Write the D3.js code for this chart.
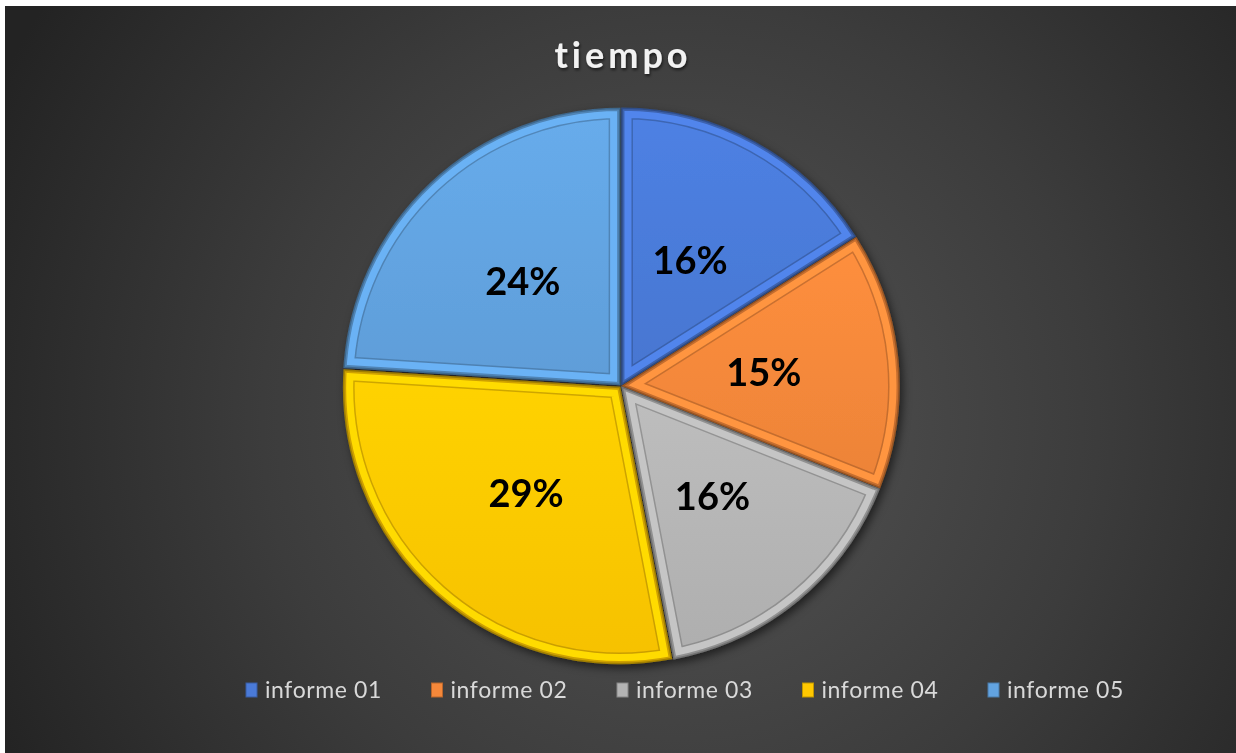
<!DOCTYPE html>
<html>
<head>
<meta charset="utf-8">
<script src="https://cdn.jsdelivr.net/npm/d3@7"></script>
<style>
  body { margin: 0; background: #fff; }
  svg { display: block; }
</style>
</head>
<body>
<div id="chart"></div>
<script>
////// DATA ////////
var title = "tiempo";
var categories = ["informe 01", "informe 02", "informe 03", "informe 04", "informe 05"];
var values = [16, 15, 16, 29, 24];
var colours = ["#4a7ad8", "#f5883a", "#b4b4b4", "#ffc800", "#62a3e0"];
////////////////////

var w = 1236, h = 753;
var cx = 621, cy = 386, r = 276;

var svg = d3.select("#chart").append("svg")
  .attr("width", w)
  .attr("height", h);

var defs = svg.append("defs");

// background gradient
var bg = defs.append("radialGradient")
  .attr("id", "bg")
  .attr("gradientUnits", "userSpaceOnUse")
  .attr("cx", 680).attr("cy", 420).attr("r", 760);
bg.append("stop").attr("offset", "0%").attr("stop-color", "#555555");
bg.append("stop").attr("offset", "55%").attr("stop-color", "#3c3c3c");
bg.append("stop").attr("offset", "100%").attr("stop-color", "#232323");

defs.append("filter").attr("id", "shadow")
  .attr("x", "-20%").attr("y", "-20%").attr("width", "140%").attr("height", "140%")
  .append("feDropShadow")
  .attr("dx", 3).attr("dy", 4).attr("stdDeviation", 4)
  .attr("flood-color", "#000").attr("flood-opacity", 0.55);

defs.append("filter").attr("id", "tshadow")
  .append("feDropShadow")
  .attr("dx", 1).attr("dy", 2).attr("stdDeviation", 1.5)
  .attr("flood-color", "#000").attr("flood-opacity", 0.6);

svg.append("rect")
  .attr("x", 5).attr("y", 6)
  .attr("width", w - 5).attr("height", h - 6)
  .attr("fill", "url(#bg)");

// title
svg.append("text")
  .attr("x", cx + 2).attr("y", 68)
  .attr("text-anchor", "middle")
  .attr("font-family", "Lato, 'Open Sans', sans-serif")
  .attr("font-weight", "bold")
  .attr("font-size", 36)
  .attr("letter-spacing", 4)
  .attr("fill", "#f2f2f2")
  .attr("filter", "url(#tshadow)")
  .text(title);

// pie
var pie = d3.pie().sort(null).value(function (d) { return d; });
var arcs = pie(values);

var arc = d3.arc().innerRadius(0).outerRadius(r);
var labelArc = d3.arc().innerRadius(r * 0.52).outerRadius(r * 0.52);
var explode = 2;

var g = svg.append("g")
  .attr("transform", "translate(" + cx + "," + cy + ")")
  .attr("filter", "url(#shadow)");

var slices = g.selectAll("g.slice")
  .data(arcs)
  .enter()
  .append("g")
  .attr("class", "slice")
  .attr("transform", function (d) {
    var a = (d.startAngle + d.endAngle) / 2;
    return "translate(" + (Math.sin(a) * explode) + "," + (-Math.cos(a) * explode) + ")";
  });

slices.each(function (d, i) {
  var s = d3.select(this);
  var base = d3.color(colours[i]);
  var grad = defs.append("linearGradient")
    .attr("id", "grad" + i)
    .attr("x1", "0").attr("y1", "0").attr("x2", "0").attr("y2", "1");
  grad.append("stop").attr("offset", "0%").attr("stop-color", base.brighter(0.15));
  grad.append("stop").attr("offset", "100%").attr("stop-color", base.darker(0.1));

  defs.append("clipPath").attr("id", "clip" + i)
    .append("path").attr("d", arc(d));

  s.append("path")
    .attr("d", arc(d))
    .attr("fill", "url(#grad" + i + ")");

  // bevel band
  var inner = s.append("g").attr("clip-path", "url(#clip" + i + ")");
  inner.append("path")
    .attr("d", arc(d))
    .attr("fill", "none")
    .attr("stroke", base.darker(1.2))
    .attr("stroke-opacity", 0.55)
    .attr("stroke-width", 22)
    .attr("stroke-linejoin", "round");
  inner.append("path")
    .attr("d", arc(d))
    .attr("fill", "none")
    .attr("stroke", base.brighter(0.25))
    .attr("stroke-width", 19)
    .attr("stroke-linejoin", "round");
  inner.append("path")
    .attr("d", arc(d))
    .attr("fill", "none")
    .attr("stroke", base.darker(0.6))
    .attr("stroke-width", 5);

  s.append("path")
    .attr("d", arc(d))
    .attr("fill", "none")
    .attr("stroke", base.darker(1.3))
    .attr("stroke-width", 1.5);
});

// labels
var total = d3.sum(values);
g.selectAll("text.lbl")
  .data(arcs)
  .enter()
  .append("text")
  .attr("class", "lbl")
  .attr("transform", function (d) {
    var c = labelArc.centroid(d);
    return "translate(" + c[0] + "," + c[1] + ")";
  })
  .attr("text-anchor", "middle")
  .attr("dy", "0.36em")
  .attr("font-family", "Lato, 'Open Sans', sans-serif")
  .attr("font-weight", "bold")
  .attr("font-size", 38)
  .attr("fill", "#000")
  .text(function (d) { return Math.round(d.value / total * 100) + "%"; });

// legend
var legendX = d3.scalePoint()
  .domain(categories)
  .range([246, 988]);

var legend = svg.append("g").selectAll("g")
  .data(categories)
  .enter()
  .append("g")
  .attr("transform", function (d) { return "translate(" + legendX(d) + ",690)"; });

legend.append("rect")
  .attr("x", 0).attr("y", -7)
  .attr("width", 11).attr("height", 14)
  .attr("fill", function (d, i) { return colours[i]; })
  .attr("stroke", function (d, i) { return d3.color(colours[i]).darker(0.8); })
  .attr("stroke-width", 1);

legend.append("text")
  .attr("x", 19).attr("dy", "0.36em")
  .attr("font-family", "Lato, 'Open Sans', sans-serif")
  .attr("font-size", 23)
  .attr("letter-spacing", 0.6)
  .attr("fill", "#d9d9d9")
  .text(function (d) { return d; });
</script>
</body>
</html>
